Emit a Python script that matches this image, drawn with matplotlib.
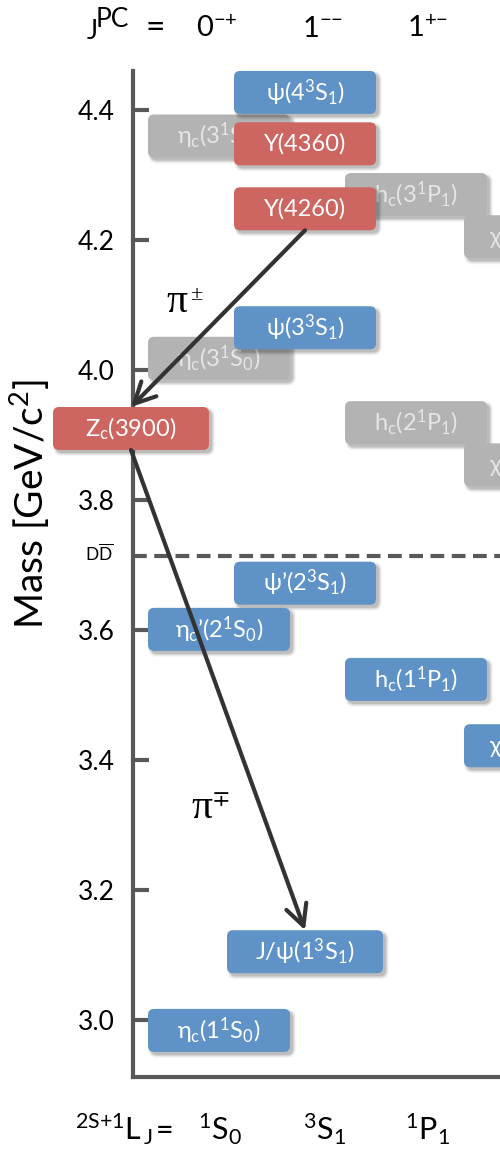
import matplotlib
matplotlib.use("Agg")
import matplotlib.pyplot as plt
from matplotlib.patches import FancyBboxPatch

plt.rcParams['font.family'] = ['Lato', 'DejaVu Sans']
plt.rcParams['mathtext.fontset'] = 'custom'
plt.rcParams['mathtext.rm'] = 'Lato'
plt.rcParams['mathtext.it'] = 'Lato:italic'
plt.rcParams['mathtext.bf'] = 'Lato:bold'
plt.rcParams['mathtext.fallback'] = 'stixsans'

# charmonium(-like) states
state_labels = [r'$\mathrm{η_c(1^1S_0)}$', r'$\mathrm{J/ψ(1^3S_1)}$',
                r'$\mathrm{χ_{c0}(1^3P_0)}$', r'$\mathrm{h_c(1^1P_1)}$',
                r'$\mathrm{η_c’(2^1S_0)}$', r'$\mathrm{ψ’(2^3S_1)}$',
                r'$\mathrm{χ_{c0}(2^3P_0)}$', r'$\mathrm{h_c(2^1P_1)}$',
                r'$\mathrm{Z_c(3900)}$', r'$\mathrm{η_c(3^1S_0)}$',
                r'$\mathrm{ψ(3^3S_1)}$', r'$\mathrm{χ_{c0}(3^3P_0)}$',
                'Y(4260)', r'$\mathrm{h_c(3^1P_1)}$', 'Y(4360)',
                r'$\mathrm{η_c(3^1S_0)}$', r'$\mathrm{ψ(4^3S_1)}$']
state_keys = ['etac1S', 'jpsi', 'chi1P', 'hc1P', 'etac2S', 'psi2S',
              'chi2P', 'hc2P', 'zc', 'etac3S', 'psi3S', 'chi3P',
              'y4260', 'hc3P', 'y4360', 'etac4S', 'psi4S']
masses = [2.984, 3.105, 3.422, 3.524, 3.601, 3.672, 3.854, 3.919, 3.910,
          4.018, 4.065, 4.205, 4.248, 4.270, 4.348, 4.360, 4.427]
columns = ['0-+', '1--', '0++', '1+-', '0-+', '1--', '0++', '1+-', 'axis',
           '0-+', '1--', '0++', '1--', '1+-', '1--', '0-+', '1--']
kinds = ['known', 'known', 'known', 'known', 'known', 'known', 'predicted',
         'predicted', 'exotic', 'predicted', 'known', 'predicted', 'exotic',
         'predicted', 'exotic', 'predicted', 'known']

dd_threshold = 3.714
decays = [('y4260', 'zc', '±'), ('zc', 'jpsi', '∓')]

mass_ticks = [3.0, 3.2, 3.4, 3.6, 3.8, 4.0, 4.2, 4.4]
jpc_labels = [r'$\mathrm{0^{{-}{+}}}$', r'$\mathrm{1^{{-}{-}}}$',
              r'$\mathrm{1^{{+}{-}}}$']
term_labels = [r'$\mathrm{^1S_0}$', r'$\mathrm{^3S_1}$', r'$\mathrm{^1P_1}$']

# layout (pixels of a 500x1151 canvas)
W, H = 500, 1151
col_x = {'axis': -2, '0-+': 86, '1--': 172, '1+-': 283, '0++': 402}
wide = {'zc', 'jpsi'}
box_w, wide_w, box_h_px = 142, 156, 43
colors = {'known': '#5F93C7', 'exotic': '#CD6660', 'predicted': '#B3B3B3'}
text_colors = {'known': 'white', 'exotic': 'white', 'predicted': '#E6E6E6'}
axis_col = '#595959'
serif = ['Liberation Serif', 'DejaVu Serif']


def fx(p):
    return p / W


def fy(p):
    return 1 - p / H


fig = plt.figure(figsize=(W / 100, H / 100), dpi=100)
ax = fig.add_axes([fx(133), fy(1077), fx(500) - fx(133), fy(71) - fy(1077)])
ax.set_xlim(0, 367)
ax.set_ylim(2.9123, 4.460)
g = (4.460 - 2.9123) / (1077 - 71)   # GeV per pixel
box_h = box_h_px * g

for sp in ['top', 'right']:
    ax.spines[sp].set_visible(False)
for sp in ['left', 'bottom']:
    ax.spines[sp].set_color(axis_col)
    ax.spines[sp].set_linewidth(3)
    ax.spines[sp].set_capstyle('projecting')
ax.set_xticks([])
ax.set_yticks(mass_ticks)
ax.set_yticklabels([f'{t:.1f}' for t in mass_ticks])
ax.tick_params(axis='y', direction='in', length=11.5, width=3,
               color=axis_col, labelsize=19, pad=13)

# D Dbar threshold
ax.axhline(dd_threshold, color=axis_col, lw=3, ls=(0, (3.3, 1.8)), zorder=1)
ax.text(-20, dd_threshold + 3 * g, r'$\mathrm{D\overline{D}}$', ha='right',
        va='center', fontsize=12.5, clip_on=False)

centers = {}
for key, lab, m, col, kind in zip(state_keys, state_labels, masses, columns, kinds):
    w = wide_w if key in wide else box_w
    xc = col_x[col]
    centers[key] = (xc, m)
    z = 2 if kind == 'predicted' else 3
    x0, y0 = xc - w / 2, m - box_h / 2
    # soft drop shadow
    for grow, a in [(3, 0.04), (2, 0.06), (1, 0.08), (0, 0.10)]:
        sh = FancyBboxPatch((x0 + 3 - grow, y0 - (3 + grow) * g), w + 2 * grow,
                            box_h + 2 * grow * g,
                            boxstyle=f'round,pad=0,rounding_size={6 + grow}',
                            mutation_aspect=g, fc='black', ec='none', alpha=a,
                            zorder=z - 0.2, clip_on=False)
        ax.add_patch(sh)
    box = FancyBboxPatch((x0, y0), w, box_h,
                         boxstyle='round,pad=0,rounding_size=6',
                         mutation_aspect=g, fc=colors[kind], ec='none',
                         zorder=z, clip_on=False)
    ax.add_patch(box)
    ax.text(xc, m, lab, ha='center', va='center', fontsize=17,
            color=text_colors[kind], zorder=z + 0.1, clip_on=False)

# decay arrows
for parent, child, pion in decays:
    px_, pm = centers[parent]
    cx_, cm = centers[child]
    start = (px_, pm - box_h / 2) if pm > cm else (px_, pm + box_h / 2)
    end = (cx_, cm + box_h / 2) if pm > cm else (cx_, cm - box_h / 2)
    ax.annotate('', xy=end, xytext=start,
                arrowprops=dict(arrowstyle='->,head_length=0.75,head_width=0.38',
                                lw=3, color='#333333', shrinkA=0, shrinkB=0,
                                mutation_scale=20),
                zorder=6, annotation_clip=False)

# pion labels (upright serif pi with a raised charge sign)
for (xp, yp), (_, _, charge) in zip([(177, 312), (202, 818)], decays):
    fig.text(fx(xp), fy(yp), 'π', ha='center', va='baseline', fontsize=30,
             family=serif)
    fig.text(fx(xp + 19), fy(yp - 12), charge, ha='center', va='baseline',
             fontsize=16, family=serif)

# axis titles
fig.text(fx(30), fy(504), r'Mass [GeV/c$^{\mathrm{2}}$]', rotation=90,
         ha='center', va='center', fontsize=28)

fig.text(fx(87), fy(39), 'J', ha='left', va='baseline', fontsize=19)
fig.text(fx(96), fy(27), 'PC', ha='left', va='baseline', fontsize=19)
fig.text(fx(146), fy(37), '=', ha='left', va='baseline', fontsize=24)
for x, lab in zip([196, 302, 407], jpc_labels):
    fig.text(fx(x), fy(37), lab, ha='left', va='baseline', fontsize=21)

fig.text(fx(75), fy(1140), r'$\mathrm{^{2S{+}1}L_{\,J}}$', ha='left',
         va='baseline', fontsize=22)
fig.text(fx(156), fy(1140), '=', ha='left', va='baseline', fontsize=22)
for x, lab in zip([198, 303, 405], term_labels):
    fig.text(fx(x), fy(1140), lab, ha='left', va='baseline', fontsize=22)

fig.savefig('out.png', dpi=100)
